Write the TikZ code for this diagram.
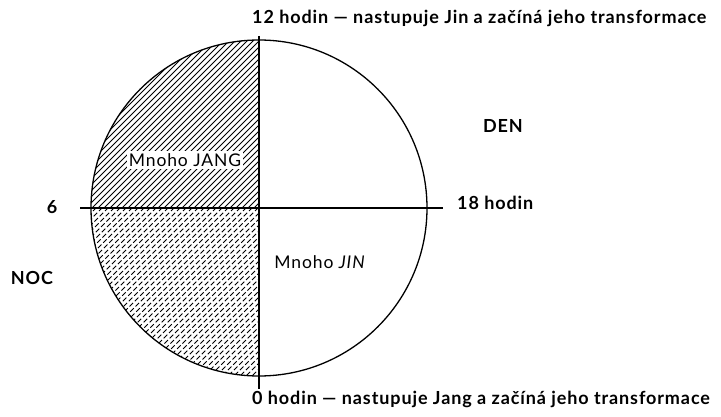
\documentclass[tikz,border=0pt]{standalone}
\usepackage{fontspec}
\setmainfont{Lato}[LetterSpace=5]
\usetikzlibrary{positioning}

\begin{document}
\begin{tikzpicture}[x=1pt, y=1pt,
  lbl/.style={font=\bfseries\fontsize{18}{20}\selectfont, inner sep=1pt},
  inlbl/.style={font=\fontsize{17.5}{20}\selectfont, inner sep=2pt},
  axis/.style={line width=1.5pt},
  rim/.style={line width=1.3pt},
  hatch/.style={line width=1pt}
]
\useasboundingbox (0,0) rectangle (721,416);
% centre and ends of the axes
\coordinate (c) at (259,208);
\coordinate (six) at (80,208);
\coordinate (eighteen) at (443,208);
\coordinate (noon) at (259,380);
\coordinate (midnight) at (259,27);
% Quarter 6--12: plain hatching
\begin{scope}
  \clip (c) -- ++(0,168) arc (90:180:168) -- cycle;
  \foreach \k in {-296,-290,...,60} {
    \draw[hatch] (\k+200,200) -- (\k+385,385);
  }
\end{scope}
% Quarter 0--6: broken hatching
\begin{scope}
  \clip (c) -- ++(-168,0) arc (180:270:168) -- cycle;
  \foreach \k in {-124,-118,...,226} {
    \draw[hatch, dash pattern=on 5pt off 2.5pt] (\k+30,30) -- (\k+215,215);
  }
\end{scope}
% clock face
\node[draw, circle, rim, minimum size=336pt, inner sep=0pt] (clock) at (c) {};
\draw[axis] (six) -- (eighteen);
\draw[axis] (noon) -- (midnight);
% labels
\node[lbl, anchor=west] (top) at (251,398) {12 hodin — nastupuje Jin a začíná jeho transformace};
\node[lbl, anchor=west] (bottom) at (251,17) {0 hodin — nastupuje Jang a začíná jeho transformace};
\node[lbl] (den) at (503,290) {DEN};
\node[lbl] (noc) at (32,138) {NOC};
\node[lbl] (h6) at (52,209) {6};
\node[lbl, anchor=west] (h18) at (456,213) {18 hodin};
\node[inlbl, fill=white] (jang) at (185,256) {Mnoho JANG};
\node[inlbl] (jin) at (320,154) {Mnoho \textit{JIN}};
\end{tikzpicture}
\end{document}
